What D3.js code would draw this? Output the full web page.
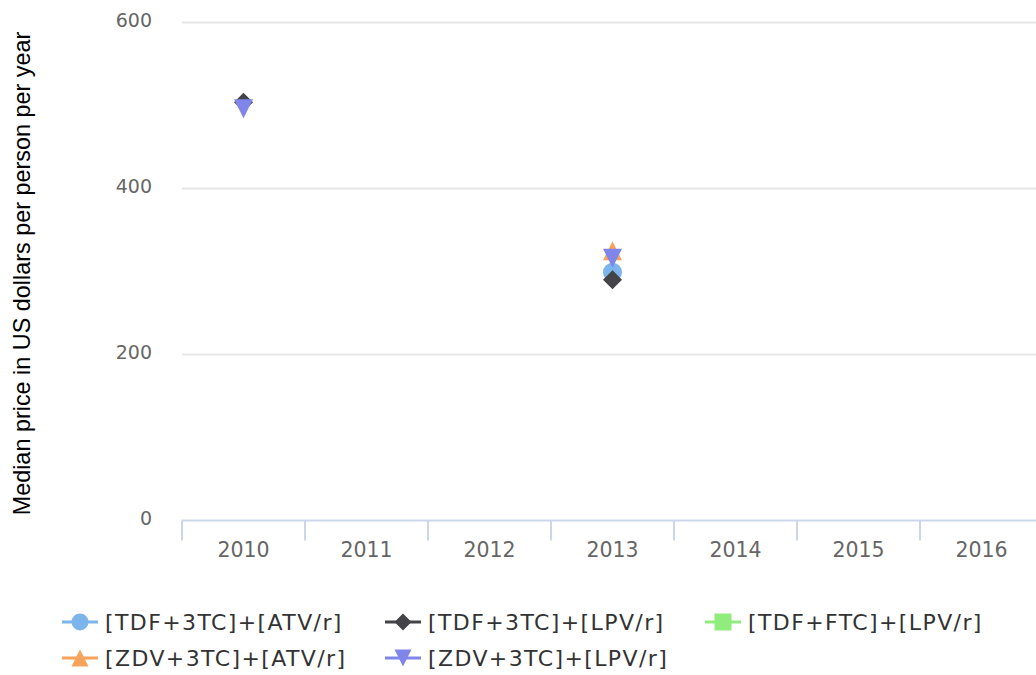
<!DOCTYPE html>
<html>
<head>
<meta charset="utf-8">
<script src="https://cdn.jsdelivr.net/npm/d3@7"></script>
<style>
  body { margin: 0; background: #fff; }
  svg { display: block; }
</style>
</head>
<body>
<svg id="chart" width="1036" height="675"></svg>
<script>
const years = ['2010', '2011', '2012', '2013', '2014', '2015', '2016']
const yTicks = [0, 200, 400, 600]

const seriesNames = ['[TDF+3TC]+[ATV/r]', '[TDF+3TC]+[LPV/r]', '[TDF+FTC]+[LPV/r]', '[ZDV+3TC]+[ATV/r]', '[ZDV+3TC]+[LPV/r]']
const seriesColors = ['#7cb5ec', '#434348', '#90ed7d', '#f7a35c', '#8085e9']
const seriesSymbols = ['circle', 'diamond', 'square', 'triangle', 'triangle-down']

// null = no point that year
const tdf3tcAtv = [null, null, null, 299, null, null, null]
const tdf3tcLpv = [504, null, null, 290, null, null, null]
const tdfFtcLpv = [null, null, null, null, null, null, null]
const zdv3tcAtv = [null, null, null, 325, null, null, null]
const zdv3tcLpv = [496, null, null, 316, null, null, null]
const seriesValues = [tdf3tcAtv, tdf3tcLpv, tdfFtcLpv, zdv3tcAtv, zdv3tcLpv]

const svg = d3.select('#chart')
const plotLeft = 182, plotRight = 1043, plotTop = 22.5, plotBottom = 520.5

const x = d3.scaleBand().domain(years).range([plotLeft, plotRight])
const y = d3.scaleLinear().domain([0, 600]).range([plotBottom, plotTop])

/* 网格线 */
svg.append('g')
    .selectAll('line')
    .data(yTicks.filter(d => d > 0))
    .join('line')
    .attr('x1', plotLeft).attr('x2', 1036)
    .attr('y1', d => y(d)).attr('y2', d => y(d))
    .attr('stroke', '#e6e6e6')
    .attr('stroke-width', 2)

/* y 轴标签 */
svg.append('g')
    .selectAll('text')
    .data(yTicks)
    .join('text')
    .attr('x', 152)
    .attr('y', d => y(d) - 2)
    .attr('dy', '0.35em')
    .attr('text-anchor', 'end')
    .attr('font-family', 'DejaVu Sans, sans-serif')
    .attr('font-size', 19)
    .attr('fill', '#666666')
    .text(d => d)

/* x 轴 */
const xAxis = d3.axisBottom(x).tickSize(0).tickPadding(0)
const gx = svg.append('g').attr('transform', `translate(0,${plotBottom})`).call(xAxis)
gx.select('.domain').remove()
gx.selectAll('text')
    .attr('y', 36)
    .attr('dy', 0)
    .attr('font-family', 'DejaVu Sans, sans-serif')
    .attr('font-size', 20.5)
    .attr('fill', '#666666')

svg.append('line')
    .attr('x1', plotLeft).attr('x2', 1036)
    .attr('y1', plotBottom).attr('y2', plotBottom)
    .attr('stroke', '#ccd6eb').attr('stroke-width', 2)

svg.append('g')
    .selectAll('line')
    .data(years.concat(['end']))
    .join('line')
    .attr('x1', (d, i) => plotLeft + i * x.bandwidth())
    .attr('x2', (d, i) => plotLeft + i * x.bandwidth())
    .attr('y1', plotBottom).attr('y2', plotBottom + 20)
    .attr('stroke', '#ccd6eb').attr('stroke-width', 2)

/* y 轴标题 */
svg.append('text')
    .attr('transform', `translate(30, 273.5) rotate(-90)`)
    .attr('text-anchor', 'middle')
    .attr('font-family', 'Liberation Sans, Arial, sans-serif')
    .attr('font-size', 23.4)
    .attr('fill', '#000')
    .text('Median price in US dollars per person per year')

const symbolPath = (sym, r) => {
    if (sym === 'circle') return `M${-r},0A${r},${r} 0 1,0 ${r},0A${r},${r} 0 1,0 ${-r},0Z`
    if (sym === 'diamond') return `M0,${-r}L${r},0L0,${r}L${-r},0Z`
    if (sym === 'square') return `M${-r},${-r}H${r}V${r}H${-r}Z`
    if (sym === 'triangle') return `M0,${-r}L${r},${r}L${-r},${r}Z`
    return `M${-r},${-r}L${r},${-r}L0,${r}Z`
}

/* 点 */
const markerR = 9.5
seriesValues.forEach((vals, si) => {
    svg.append('g')
        .selectAll('path')
        .data(vals.map((v, i) => ({year: years[i], v})).filter(d => d.v !== null))
        .join('path')
        .attr('transform', d => `translate(${x(d.year) + x.bandwidth() / 2},${y(d.v)})`)
        .attr('d', symbolPath(seriesSymbols[si], markerR))
        .attr('fill', seriesColors[si])
})

/* 图例 */
const legendX = [62, 385, 705]
const legendY = [622, 658]
seriesNames.forEach((name, i) => {
    const lx = legendX[i % 3], ly = legendY[Math.floor(i / 3)]
    const g = svg.append('g').attr('transform', `translate(${lx},${ly})`)
    g.append('line')
        .attr('x1', 0).attr('x2', 36).attr('y1', 0).attr('y2', 0)
        .attr('stroke', seriesColors[i]).attr('stroke-width', 3)
    g.append('path')
        .attr('transform', 'translate(18,0)')
        .attr('d', symbolPath(seriesSymbols[i], 8.5))
        .attr('fill', seriesColors[i])
    g.append('text')
        .attr('x', 43)
        .attr('y', 0)
        .attr('dy', '0.35em')
        .attr('font-family', 'DejaVu Sans, sans-serif')
        .attr('font-size', 22)
        .attr('letter-spacing', 1.4)
        .attr('fill', '#333333')
        .text(name)
})
</script>
</body>
</html>
